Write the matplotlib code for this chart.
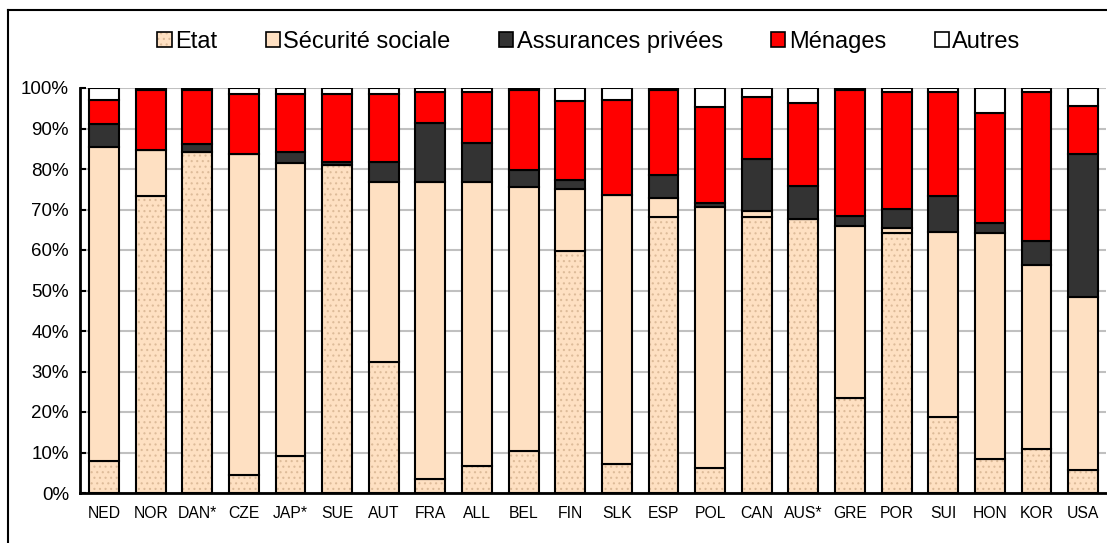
import matplotlib
matplotlib.use("Agg")
import matplotlib.pyplot as plt
from matplotlib.patches import Patch
from matplotlib.lines import Line2D
import numpy as np

plt.rcParams['font.family'] = ['Liberation Sans', 'DejaVu Sans']
plt.rcParams['hatch.linewidth'] = 0.8

countries = ["NED", "NOR", "DAN*", "CZE", "JAP*", "SUE", "AUT", "FRA", "ALL", "BEL", "FIN",
             "SLK", "ESP", "POL", "CAN", "AUS*", "GRE", "POR", "SUI", "HON", "KOR", "USA"]
etat = [8.0, 73.3, 84.3, 4.4, 9.1, 81.0, 32.3, 3.5, 6.6, 10.4, 59.8,
        7.1, 68.1, 6.1, 68.1, 67.6, 23.5, 64.3, 18.8, 8.3, 10.9, 5.7]
securite = [77.5, 11.4, 0.0, 79.3, 72.5, 0.0, 44.5, 73.3, 70.2, 65.1, 15.3,
            66.6, 4.7, 64.6, 1.6, 0.0, 42.4, 1.2, 45.7, 55.8, 45.4, 42.7]
assurances = [5.5, 0.0, 1.8, 0.0, 2.7, 0.7, 4.9, 14.5, 9.7, 4.3, 2.2,
              0.0, 5.7, 0.8, 12.8, 8.2, 2.5, 4.7, 8.8, 2.6, 6.0, 35.3]
menages = [6.0, 14.8, 13.4, 14.8, 14.2, 16.8, 16.8, 7.7, 12.4, 19.7, 19.6,
           23.3, 21.0, 23.8, 15.4, 20.6, 31.1, 28.8, 25.7, 27.2, 36.7, 11.9]
autres = [3.0, 0.5, 0.5, 1.5, 1.5, 1.5, 1.5, 1.0, 1.1, 0.5, 3.1,
          3.0, 0.5, 4.7, 2.1, 3.6, 0.5, 1.0, 1.0, 6.1, 1.0, 4.4]
yticks = [0, 10, 20, 30, 40, 50, 60, 70, 80, 90, 100]
ytick_labels = [f"{v}%" for v in yticks]
series_names = ["Etat", "Sécurité sociale", "Assurances privées", "Ménages", "Autres"]

W, H = 1107, 543
fig = plt.figure(figsize=(W / 100, H / 100), dpi=100)
ax = fig.add_axes([80 / W, 1 - 493 / H, 1026 / W, 405 / H])

peach = "#FEE0C2"
dot_color = "#DDBB99"
colors = [peach, peach, "#333333", "#FF0000", "#FFFFFF"]
x = np.arange(len(countries))
width = 0.64
lw = 1.5

data = [etat, securite, assurances, menages, autres]
bottom = np.zeros(len(countries))
for i, vals in enumerate(data):
    vals = np.array(vals)
    if i == 0:
        ax.bar(x, vals, width, bottom=bottom, color=peach, edgecolor=dot_color,
               hatch="...", linewidth=0, zorder=2)
        ax.bar(x, vals, width, bottom=bottom, fill=False, edgecolor="black",
               linewidth=lw, zorder=3)
    else:
        ax.bar(x, vals, width, bottom=bottom, color=colors[i], edgecolor="black",
               linewidth=lw, zorder=3)
    bottom = bottom + vals

ax.set_xlim(-0.515, len(countries) - 0.51)
ax.set_ylim(0, 100)
ax.set_yticks(yticks)
ax.set_yticklabels(ytick_labels, fontsize=13.5)
ax.set_xticks(x)
ax.set_xticklabels(countries, fontsize=11.3)
ax.tick_params(axis='x', length=0, pad=9)
ax.tick_params(axis='y', direction='in', length=4, width=1.5, pad=8)
ax.yaxis.grid(True, color="#C0C0C0", linewidth=1.5, zorder=0)
ax.set_axisbelow(True)
for s in ["top", "right"]:
    ax.spines[s].set_visible(False)
for s in ["left", "bottom"]:
    ax.spines[s].set_linewidth(2)
    ax.spines[s].set_zorder(4)

etat_handle = (Patch(facecolor=peach, edgecolor=dot_color, hatch="...", linewidth=0),
               Patch(fill=False, edgecolor="black", linewidth=1.2))
handles = [
    etat_handle,
    Patch(facecolor=peach, edgecolor="black", linewidth=1.2),
    Patch(facecolor="#333333", edgecolor="black", linewidth=1.2),
    Patch(facecolor="#FF0000", edgecolor="black", linewidth=1.2),
    Patch(facecolor="#FFFFFF", edgecolor="black", linewidth=1.2),
]
fig.legend(handles, series_names, loc="center", bbox_to_anchor=(589 / W, 1 - 42 / H),
           ncol=5, frameon=False, fontsize=17, handlelength=0.6, handleheight=0.6,
           handletextpad=0.15, columnspacing=2.05)

fig.add_artist(Line2D([8 / W, 8 / W], [0, 1 - 10 / H], color="black", linewidth=1.5,
                      transform=fig.transFigure))
fig.add_artist(Line2D([8 / W, 1], [1 - 10 / H, 1 - 10 / H], color="black", linewidth=1.5,
                      transform=fig.transFigure))

fig.savefig("out.png", dpi=100)
